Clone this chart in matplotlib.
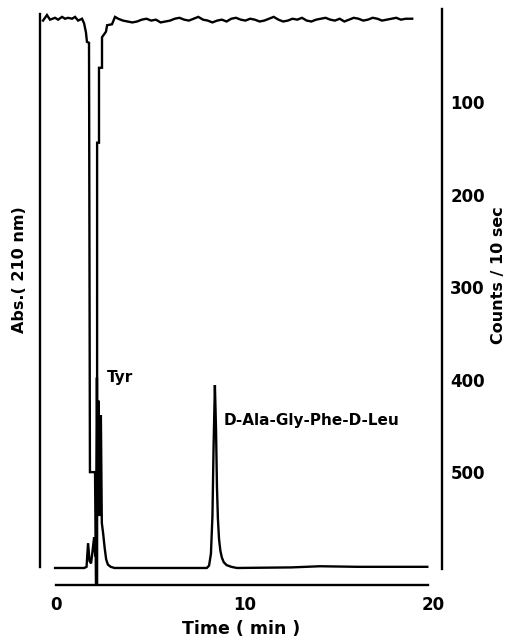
import matplotlib.pyplot as plt
import numpy as np

plt.rcParams['font.family'] = ['DejaVu Sans']
plt.rcParams['font.weight'] = 'bold'

# UV trace, Abs (210 nm), arbitrary units
uv_time = [-0.05, 1.50, 1.62, 1.70, 1.78, 1.86, 1.94, 2.02, 2.08, 2.12,
           2.17, 2.21, 2.25, 2.29, 2.33, 2.38, 2.43, 2.50, 2.58, 2.66,
           2.75, 2.90, 3.10, 8.00, 8.12, 8.22, 8.30, 8.36, 8.43, 8.49,
           8.54, 8.59, 8.65, 8.72, 8.80, 8.90, 9.05, 9.30, 9.60, 12.5,
           14.0, 16.0, 19.7]
uv_abs = [0.0, 0.0, 0.002, 0.043, 0.012, 0.008, 0.03, 0.053, 0.02, 0.03,
          0.33, 0.10, 0.29, 0.09, 0.22, 0.265, 0.078, 0.06, 0.035, 0.015,
          0.006, 0.002, 0.0, 0.0, 0.004, 0.025, 0.09, 0.21, 0.317, 0.24,
          0.14, 0.085, 0.05, 0.03, 0.018, 0.01, 0.005, 0.002, 0.0, 0.001,
          0.003, 0.002, 0.002]

# radioactivity trace, counts / 10 sec
rad_time = [-0.69, -0.48, -0.32, -0.05, 0.11, 0.32, 0.48, 0.64, 0.85, 1.01,
            1.17, 1.38, 1.49, 1.59, 1.64, 1.75, 1.80, 2.07, 2.12, 2.18,
            2.18, 2.28, 2.28, 2.44, 2.44, 2.65, 2.71, 2.97, 3.13, 3.30,
            3.55, 3.80, 4.05, 4.30, 4.55, 4.80, 5.05, 5.30, 5.55, 5.80,
            6.05, 6.30, 6.55, 6.80, 7.05, 7.30, 7.55, 7.80, 8.05, 8.30,
            8.55, 8.80, 9.05, 9.30, 9.55, 9.80, 10.05, 10.30, 10.55, 10.80,
            11.05, 11.30, 11.55, 11.80, 12.05, 12.30, 12.55, 12.80, 13.05, 13.30,
            13.55, 13.80, 14.05, 14.30, 14.55, 14.80, 15.05, 15.30, 15.55, 15.80,
            16.05, 16.30, 16.55, 16.80, 17.05, 17.30, 17.55, 17.80, 18.05, 18.30,
            18.55, 18.90]
rad_counts = [12, 6, 11, 9, 11, 8, 10, 9, 10, 8,
              12, 10, 15, 25, 35, 36, 500, 500, 622, 622,
              144, 144, 63, 63, 30, 24, 17, 16, 8, 10,
              12, 13, 14, 13, 11, 10, 12, 11, 14, 13,
              12, 10, 9, 11, 12, 10, 8, 11, 12, 14,
              12, 11, 13, 10, 9, 11, 12, 10, 11, 13,
              12, 10, 8, 11, 13, 12, 10, 11, 9, 12,
              13, 11, 10, 9, 11, 12, 10, 13, 11, 9,
              10, 12, 11, 9, 10, 12, 11, 10, 9, 11,
              10, 10]

count_ticks = [100, 200, 300, 400, 500]
time_ticks = [0, 10, 20]

fig = plt.figure(figsize=(5.23, 6.39), dpi=100)
ax = fig.add_axes([40 / 523, 54 / 639, 402 / 523, 577 / 639])
ax2 = ax.twinx()

ax.plot(uv_time, uv_abs, color='black', lw=1.7, solid_joinstyle='miter')
ax2.plot(rad_time, rad_counts, color='black', lw=1.7, solid_joinstyle='miter')

ax.set_xlim(-0.85, 20.48)
ax.set_ylim(-0.0295, 0.9705)
ax2.set_ylim(622, -1.6)

for a in (ax, ax2):
    for s in a.spines.values():
        s.set_visible(False)

ax.spines['left'].set_visible(True)
ax.spines['left'].set_bounds(0.0017, 0.96)
ax.spines['left'].set_linewidth(1.7)
ax.spines['bottom'].set_visible(True)
ax.spines['bottom'].set_bounds(0, 19.75)
ax.spines['bottom'].set_linewidth(1.7)
ax2.spines['right'].set_visible(True)
ax2.spines['right'].set_bounds(-0.5, 605)
ax2.spines['right'].set_linewidth(1.7)

ax.set_yticks([])
ax.set_xticks(time_ticks)
ax.tick_params(axis='x', length=0, pad=8, labelsize=12)
ax2.set_yticks(count_ticks)
ax2.tick_params(axis='y', length=0, pad=6, labelsize=12)
for lab in ax.get_xticklabels() + ax2.get_yticklabels():
    lab.set_fontweight('bold')

ax.set_xlabel('Time ( min )', fontsize=12.5, fontweight='bold', labelpad=4)
fig.text(19 / 523, 1 - 270 / 639, 'Abs.( 210 nm)', rotation=90, fontsize=11.5,
         fontweight='bold', ha='center', va='center')
fig.text(498 / 523, 1 - 275 / 639, 'Counts / 10 sec', rotation=90, fontsize=11.5,
         fontweight='bold', ha='center', va='center')

ax.text(2.7, 0.33, 'Tyr', fontsize=11, fontweight='bold', ha='left', va='center')
ax.text(8.9, 0.255, 'D-Ala-Gly-Phe-D-Leu', fontsize=11, fontweight='bold',
        ha='left', va='center')

fig.savefig('out.png', dpi=100)
